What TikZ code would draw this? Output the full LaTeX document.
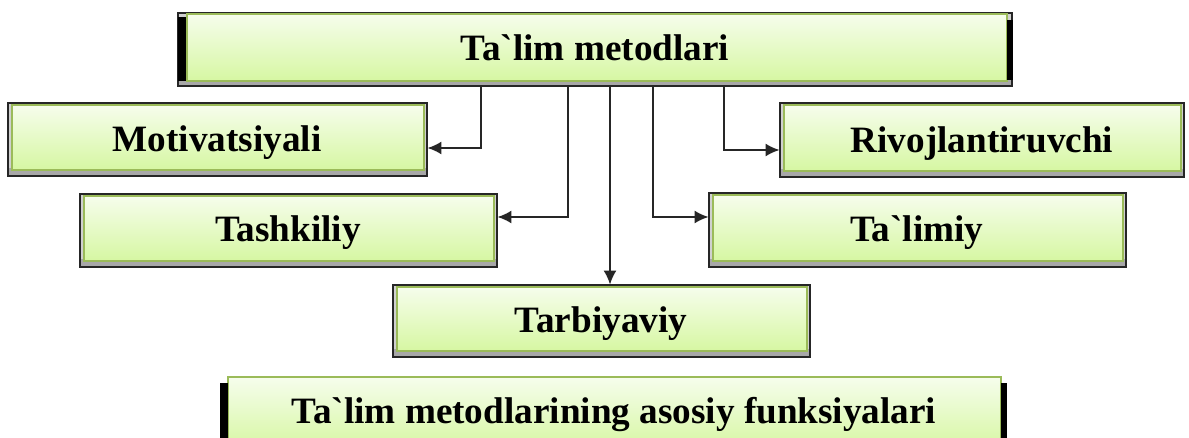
\documentclass[tikz,border=0pt]{standalone}
\usepackage{fontspec}
\setmainfont{Liberation Serif}[Ligatures=TeXOff]
\usetikzlibrary{arrows.meta,fit,calc}
\definecolor{gtop}{HTML}{F6FDEC}
\definecolor{gbot}{HTML}{D6F7A2}
\definecolor{gborder}{HTML}{9BBB59}
\definecolor{sgray}{HTML}{A8A8A8}
\definecolor{lgray}{HTML}{D0D0D0}
\definecolor{lineblk}{HTML}{262626}
\tikzset{
  outerline/.style={draw=lineblk,line width=0.6pt},
  greenbox/.style={top color=gtop,bottom color=gbot,draw=gborder,line width=0.9pt},
  lbl/.style={font=\bfseries\fontsize{18.6}{22}\selectfont,text=black,inner sep=0pt,anchor=base},
  conn/.style={draw=lineblk,line width=1pt,-{Latex[length=7pt,width=6.5pt]}},
  fitbox/.style={inner sep=0pt,draw=none}
}
% \gbox{name}{x1}{y1}{x2}{y2}{cx}{baseline}{text}
\newcommand\gbox[8]{%
  \fill[lgray] (#2,#3) rectangle (#4,#5);
  \fill[sgray] (#2,{#5-8}) rectangle (#4,#5);
  \draw[outerline] (#2,#3) rectangle (#4,#5);
  \shade[greenbox] ({#2+4},{#3+2}) rectangle ({#4-3},{#5-6});
  \node[fitbox,fit={(#2,#3)(#4,#5)}] (#1) {};
  \node[lbl] (#1T) at (#6,#7) {#8};
}
\begin{document}
\begin{tikzpicture}[x=0.5pt,y=-0.5pt]
\useasboundingbox (0,0) rectangle (1189,438);
\clip (0,0) rectangle (1189,438);
% top box
\fill[lgray] (178,13) rectangle (1012,86);
\fill[sgray] (178,78) rectangle (1012,86);
\draw[outerline] (178,13) rectangle (1012,86);
\shade[greenbox] (187,14) rectangle (1007,81);
\fill[black] (178,17) rectangle (186,81);
\fill[black] (1007,20) rectangle (1013,80);
\node[fitbox,fit={(178,13)(1012,86)}] (top) {};
\node[lbl] (topT) at (595,61) {Ta`lim metodlari};
% boxes
\gbox{mot}{8}{103}{427}{176}{217}{152}{Motivatsiyali}
\gbox{riv}{780}{103}{1184}{177}{982}{153}{Rivojlantiruvchi}
\gbox{tash}{80}{194}{497}{267}{288}{242}{Tashkiliy}
\gbox{tal}{709}{193}{1126}{267}{917}{242}{Ta`limiy}
\gbox{tarb}{393}{285}{810}{357}{601}{333}{Tarbiyaviy}
% bottom box
\shade[greenbox] (228,377) rectangle (1001,450);
\fill[black] (220,383) rectangle (228,440);
\fill[black] (1001,383) rectangle (1007,440);
\node[fitbox,fit={(220,377)(1007,440)}] (bot) {};
\node[lbl] (botT) at (614,423) {Ta`lim metodlarining asosiy funksiyalari};
% connectors
\draw[conn] (top.south -| 481,0) |- (mot.east |- 0,148);
\draw[conn] (top.south -| 568,0) |- (tash.east |- 0,217);
\draw[conn] (top.south -| 610,0) -- (tarb.north -| 610,0);
\draw[conn] (top.south -| 653,0) |- (tal.west |- 0,217);
\draw[conn] (top.south -| 724,0) |- (riv.west |- 0,150);
\end{tikzpicture}
\end{document}
